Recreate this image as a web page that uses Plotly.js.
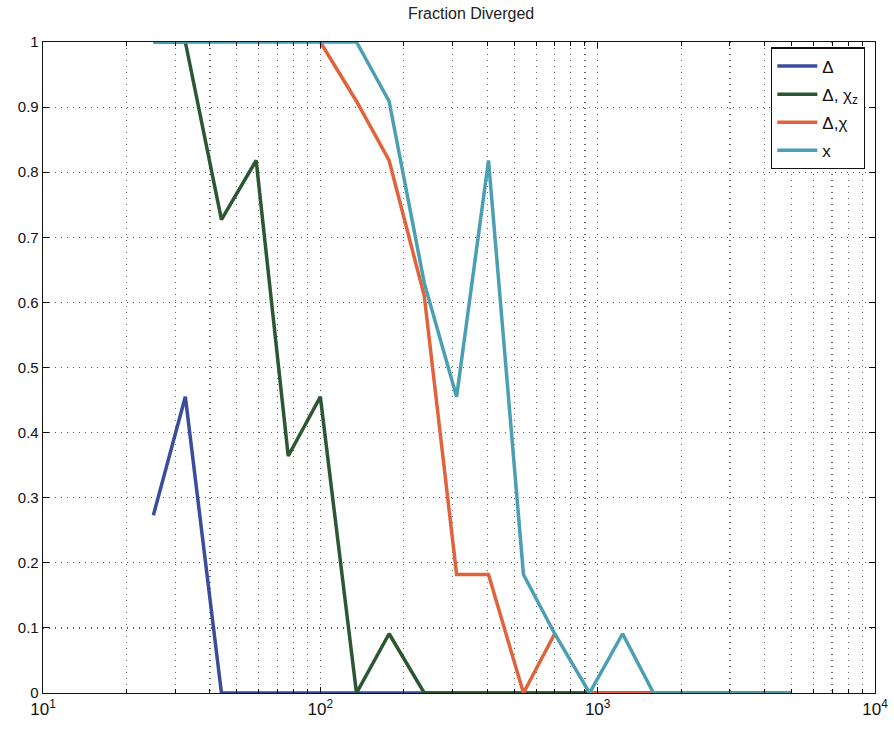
<!DOCTYPE html>
<html>
<head>
<meta charset="utf-8">
<script src="https://cdn.plot.ly/plotly-3.0.1.min.js"></script>
<style>html,body{margin:0;padding:0;background:#fff;}#chart{width:894px;height:730px;}</style>
</head>
<body>
<div id="chart"></div>
<script>
// Shared sample sizes (x, log scale)
const xVals = [25, 32.6, 44, 58.7, 76.6, 100, 135, 177, 237, 310, 404, 540, 700, 935, 1230, 1590, 2100, 2800, 3700, 5000];

// Series values (fraction diverged)
const deltaVals     = [0.273, 0.455, 0, 0, 0, 0, 0, 0, 0, 0, 0, 0, 0, 0, 0, 0, 0, 0, 0, 0];
const deltaChiZVals = [1, 1, 0.727, 0.818, 0.364, 0.455, 0, 0.091, 0, 0, 0, 0, 0, 0, 0, 0, 0, 0, 0, 0];
const xOnlyVals     = [1, 1, 1, 1, 1, 1, 1, 0.909, 0.63, 0.455, 0.818, 0.182, 0.091, 0, 0.091, 0, 0, 0, 0, 0];

// Δ,χ series has a break between 700 and 935
const xDeltaChi    = [100, 135, 177, 237, 310, 404, 540, 700, 800, 935, 1230, 1590, 2100, 2800, 3700, 5000];
const deltaChiVals = [1, 0.909, 0.818, 0.61, 0.182, 0.182, 0, 0.091, null, 0, 0, 0, 0, 0, 0, 0];

const seriesNames = ['Δ', 'Δ, χ<sub>z</sub>', 'Δ,χ', 'x'];
const colors = ['#3a4d9c', '#2b5733', '#e2623c', '#4b9fb2'];

const traces = [
  {x: xVals, y: deltaVals, name: seriesNames[0]},
  {x: xVals, y: deltaChiZVals, name: seriesNames[1]},
  {x: xDeltaChi, y: deltaChiVals, name: seriesNames[2]},
  {x: xVals, y: xOnlyVals, name: seriesNames[3]}
].map((t, i) => Object.assign(t, {
  type: 'scatter', mode: 'lines', connectgaps: false,
  legendgroup: 'g' + i,
  line: {color: colors[i], width: 3.5}
}));

const xTickVals = [10, 100, 1000, 10000];
const xTickText = ['10<sup>1</sup>', '10<sup>2</sup>', '10<sup>3</sup>', '10<sup>4</sup>'];
const yTickVals = [0, 0.1, 0.2, 0.3, 0.4, 0.5, 0.6, 0.7, 0.8, 0.9, 1];
const yTickText = ['0', '0.1', '0.2', '0.3', '0.4', '0.5', '0.6', '0.7', '0.8', '0.9', '1'];

const fam = 'Liberation Sans, Arial, sans-serif';
const gridDash = '1px,5px';

const layout = {
  width: 894, height: 730,
  margin: {l: 43, r: 19, t: 42, b: 37},
  paper_bgcolor: '#fff', plot_bgcolor: '#fff',
  font: {family: fam, size: 15, color: '#111'},
  title: {text: 'Fraction Diverged', x: 0.527, xanchor: 'center', y: 0.99, yanchor: 'top',
          font: {family: fam, size: 16, color: '#222'}},
  showlegend: true,
  legend: {
    x: 0.988, xanchor: 'right', y: 0.992, yanchor: 'top',
    bgcolor: '#fff', bordercolor: '#111', borderwidth: 1.3,
    font: {family: fam, size: 17, color: '#111'},
    tracegroupgap: 3, itemwidth: 40
  },
  xaxis: {
    type: 'log', range: [1, 4],
    tickvals: xTickVals, ticktext: xTickText,
    ticks: 'inside', ticklen: 6, tickcolor: '#111',
    showline: true, linecolor: '#111', linewidth: 1.3, mirror: 'ticks',
    showgrid: true, gridcolor: '#555', griddash: gridDash, gridwidth: 1.2,
    zeroline: false,
    tickfont: {family: fam, size: 17, color: '#111'},
    minor: {dtick: 'D1', ticks: 'inside', ticklen: 4, tickcolor: '#111',
            showgrid: true, gridcolor: '#666', griddash: gridDash, gridwidth: 1.2}
  },
  yaxis: {
    range: [0, 1],
    tickvals: yTickVals, ticktext: yTickText,
    ticks: 'inside', ticklen: 6, tickcolor: '#111',
    showline: true, linecolor: '#111', linewidth: 1.3, mirror: 'ticks',
    showgrid: true, gridcolor: '#555', griddash: gridDash, gridwidth: 1.2,
    zeroline: false,
    tickfont: {family: fam, size: 15, color: '#111'}
  }
};

Plotly.newPlot('chart', traces, layout, {staticPlot: true, displayModeBar: false});
</script>
</body>
</html>
